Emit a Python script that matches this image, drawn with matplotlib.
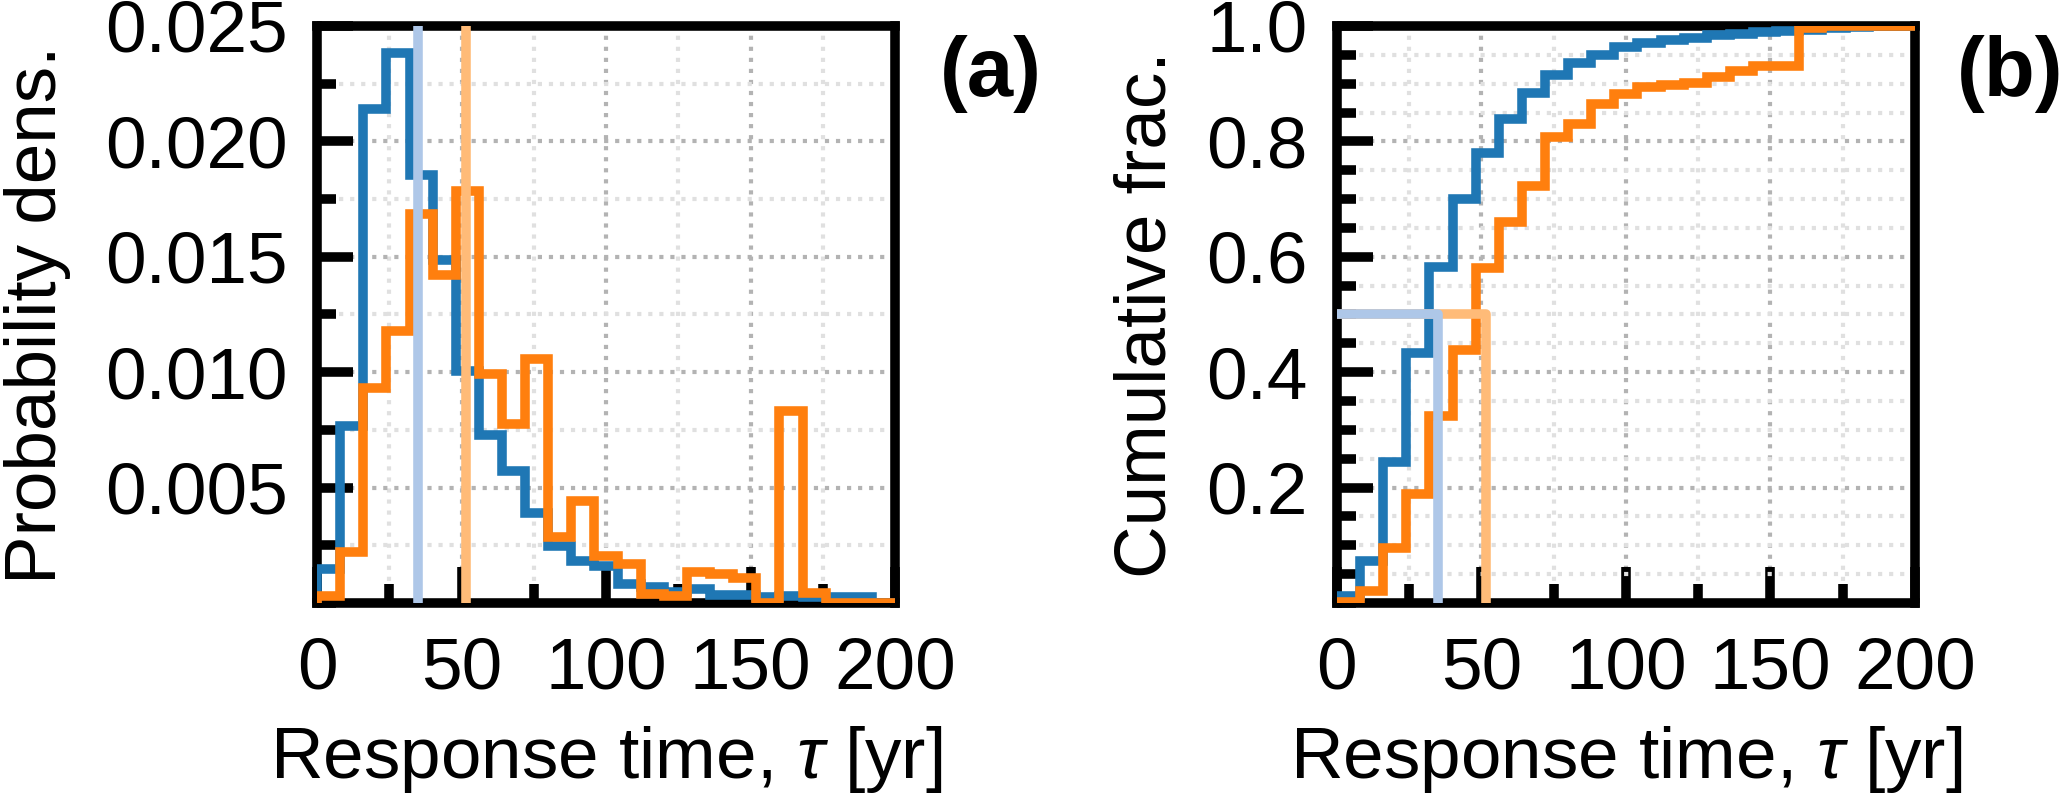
import numpy as np
import matplotlib
matplotlib.use("Agg")
import matplotlib.pyplot as plt
from matplotlib.ticker import MultipleLocator, FixedLocator, FormatStrFormatter

# histogram bins (width 8 yr) and densities
bin_edges = np.arange(0, 201, 8)
dens_blue = [0.00147, 0.00766, 0.02139, 0.02384, 0.01853, 0.01488, 0.01004, 0.00730,
             0.00572, 0.00392, 0.00248, 0.00183, 0.00161, 0.00082, 0.00068, 0.00046,
             0.00060, 0.00036, 0.00036, 0.00027, 0.00030, 0.00027, 0.00025, 0.00025, 0.0]
dens_orange = [0.00030, 0.00219, 0.00930, 0.01178, 0.01684, 0.01423, 0.01785, 0.00990,
               0.00774, 0.01058, 0.00284, 0.00442, 0.00205, 0.00169, 0.00040, 0.00030,
               0.00135, 0.00125, 0.00107, 0.0, 0.00831, 0.00042, 0.0, 0.0, 0.0]
median_blue = 35.0
median_orange = 51.5

x_ticks = [0, 50, 100, 150, 200]
yticks_a = [0.005, 0.010, 0.015, 0.020, 0.025]
yticks_b = [0.2, 0.4, 0.6, 0.8, 1.0]

C_BLUE, C_ORANGE = "#1f77b4", "#ff7f0e"
C_LBLUE, C_LORANGE = "#aec7e8", "#ffbb78"
LW = 2.3
FS = 17.5

plt.rcParams["font.family"] = ["Liberation Sans", "DejaVu Sans"]
plt.rcParams["mathtext.fontset"] = "custom"
plt.rcParams["mathtext.it"] = "Liberation Sans:italic"
plt.rcParams["mathtext.rm"] = "Liberation Sans"
plt.rcParams["font.size"] = FS

fig = plt.figure(figsize=(2067 / 300, 807 / 300), dpi=300)
ax_a = fig.add_axes([0.1534, 0.2528, 0.2796, 0.715])
ax_b = fig.add_axes([0.6468, 0.2528, 0.2796, 0.715])


def style_axes(ax):
    ax.set_xlim(0, 200)
    ax.xaxis.set_major_locator(FixedLocator(x_ticks))
    ax.xaxis.set_minor_locator(MultipleLocator(25))
    ax.tick_params(which="both", direction="in", top=False, right=False, width=LW)
    ax.tick_params(which="major", length=8.6, labelsize=FS)
    ax.tick_params(axis="x", which="major", pad=8)
    ax.tick_params(axis="y", which="major", pad=7)
    ax.tick_params(which="minor", length=4.5)
    for s in ax.spines.values():
        s.set_linewidth(LW)
    ax.set_axisbelow(True)
    ax.grid(which="major", ls=":", color="#b3b3b3", lw=1.0)
    ax.grid(which="minor", ls=":", color="#e0e0e0", lw=1.0)
    ax.set_xlabel(r"Response time, $\tau$ [yr]", fontsize=FS)
    ax.xaxis.set_label_coords(0.5, -0.21)


# (a) probability density
style_axes(ax_a)
ax_a.stairs(dens_blue, bin_edges, color=C_BLUE, lw=LW, zorder=3)
ax_a.stairs(dens_orange, bin_edges, color=C_ORANGE, lw=LW, zorder=3)
ax_a.axvline(median_blue, color=C_LBLUE, lw=LW, zorder=4)
ax_a.axvline(median_orange, color=C_LORANGE, lw=LW, zorder=4)
ax_a.set_ylim(0, 0.025)
ax_a.yaxis.set_major_locator(FixedLocator(yticks_a))
ax_a.yaxis.set_minor_locator(MultipleLocator(0.0025))
ax_a.yaxis.set_major_formatter(FormatStrFormatter("%.3f"))
ax_a.set_ylabel("Probability dens.", fontsize=FS)
ax_a.yaxis.set_label_coords(-0.425, 0.5)
ax_a.text(1.165, 0.916, "(a)", transform=ax_a.transAxes, ha="center", va="center",
          fontsize=20, fontweight="bold")

# (b) cumulative fraction
cdf_blue = np.cumsum(dens_blue) / np.sum(dens_blue)
cdf_orange = np.cumsum(dens_orange) / np.sum(dens_orange)
style_axes(ax_b)
ax_b.stairs(cdf_blue, bin_edges, color=C_BLUE, lw=LW, baseline=None, zorder=3)
ax_b.stairs(cdf_orange, bin_edges, color=C_ORANGE, lw=LW, baseline=None, zorder=3)
ax_b.plot([0, median_orange, median_orange], [0.5, 0.5, 0], color=C_LORANGE, lw=LW, zorder=4)
ax_b.plot([0, median_blue, median_blue], [0.5, 0.5, 0], color=C_LBLUE, lw=LW, zorder=4)
ax_b.set_ylim(0, 1.0)
ax_b.yaxis.set_major_locator(FixedLocator(yticks_b))
ax_b.yaxis.set_minor_locator(MultipleLocator(0.05))
ax_b.yaxis.set_major_formatter(FormatStrFormatter("%.1f"))
ax_b.set_ylabel("Cumulative frac.", fontsize=FS)
ax_b.yaxis.set_label_coords(-0.27, 0.5)
ax_b.text(1.165, 0.916, "(b)", transform=ax_b.transAxes, ha="center", va="center",
          fontsize=20, fontweight="bold")

fig.savefig("out.png", dpi=300)
